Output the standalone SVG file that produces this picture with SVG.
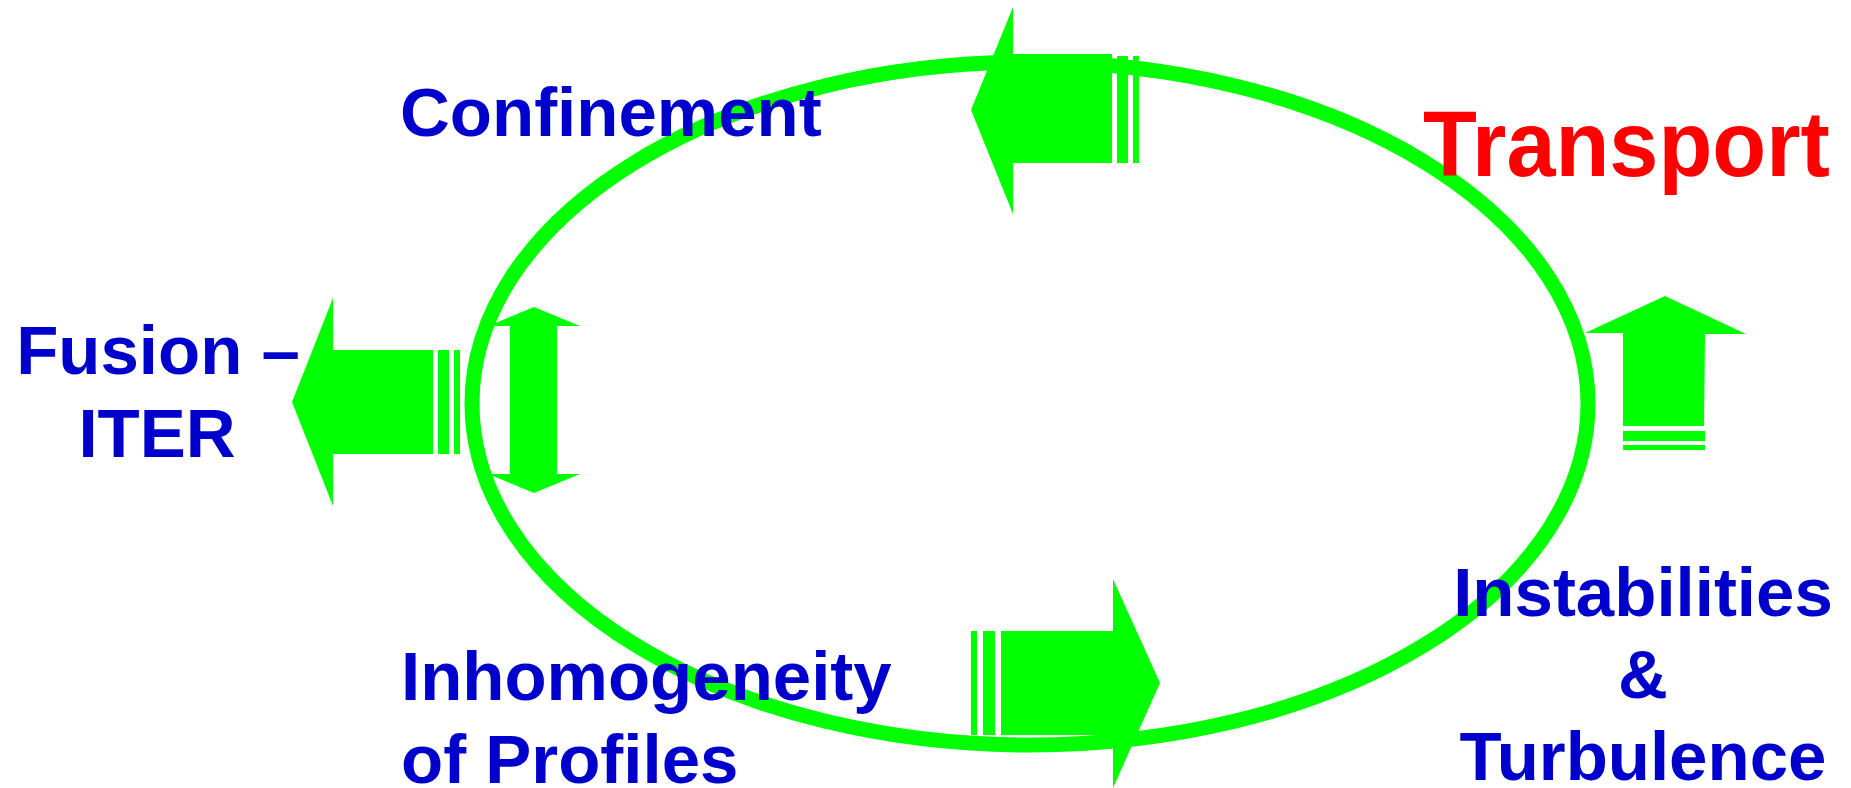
<svg xmlns="http://www.w3.org/2000/svg" width="1851" height="788" viewBox="0 0 1851 788">
<style>
.g{fill:#00FF00;stroke:none}
.ring{fill:none;stroke:#00FF00;stroke-width:15}
.t{font-family:"Liberation Sans",Arial,sans-serif;font-weight:bold;fill:#0000CC}
.red{fill:#FF0000}
</style>
<rect width="1851" height="788" fill="#FFFFFF"/>
<g id="connectors">
  <ellipse class="ring" cx="1030" cy="403.5" rx="558" ry="341.5"/>
  <g id="arrow-top">
    <polygon class="g" points="971,110 1013,7 1013,54 1112,54 1112,163 1013,163 1013,214"/>
    <rect class="g" x="1117" y="56" width="11" height="107"/>
    <rect class="g" x="1133" y="56" width="6" height="107"/>
  </g>
  <g id="arrow-left">
    <polygon class="g" points="292,402 333,298 333,350 433,350 433,454 333,454 333,506"/>
    <rect class="g" x="438" y="350" width="11" height="104"/>
    <rect class="g" x="454" y="350" width="6" height="104"/>
  </g>
  <g id="arrow-double">
    <polygon class="g" points="534,307 580,326 557,326 557,474 580,474 534,493 488,474 510,474 510,326 488,326"/>
  </g>
  <g id="arrow-right">
    <polygon class="g" points="1585,333 1665,296 1746,334 1705,334 1704,426 1623,426 1623,333"/>
    <rect class="g" x="1623" y="431" width="82" height="10"/>
    <rect class="g" x="1623" y="445" width="82" height="5"/>
  </g>
  <g id="arrow-bottom">
    <polygon class="g" points="1160,683 1113,579 1113,631 1001,631 1001,735 1113,735 1113,788"/>
    <rect class="g" x="983" y="631" width="12" height="104"/>
    <rect class="g" x="971" y="631" width="6" height="104"/>
  </g>
</g>
<g id="confinement">
  <text class="t" x="400" y="136" font-size="69">Confinement</text>
</g>
<g id="transport">
  <text class="t red" x="1423" y="176" font-size="92" textLength="407" lengthAdjust="spacingAndGlyphs">Transport</text>
</g>
<g id="fusion-iter">
  <text class="t" font-size="69" text-anchor="middle"><tspan x="158" y="374">Fusion –</tspan><tspan x="157" y="457">ITER</tspan></text>
</g>
<g id="inhomogeneity">
  <text class="t" font-size="69"><tspan x="401" y="700">Inhomogeneity</tspan><tspan x="401" y="783">of Profiles</tspan></text>
</g>
<g id="instabilities">
  <text class="t" font-size="69" text-anchor="middle"><tspan x="1643" y="616">Instabilities</tspan><tspan x="1643" y="698">&amp;</tspan><tspan x="1643" y="780">Turbulence</tspan></text>
</g>
</svg>
